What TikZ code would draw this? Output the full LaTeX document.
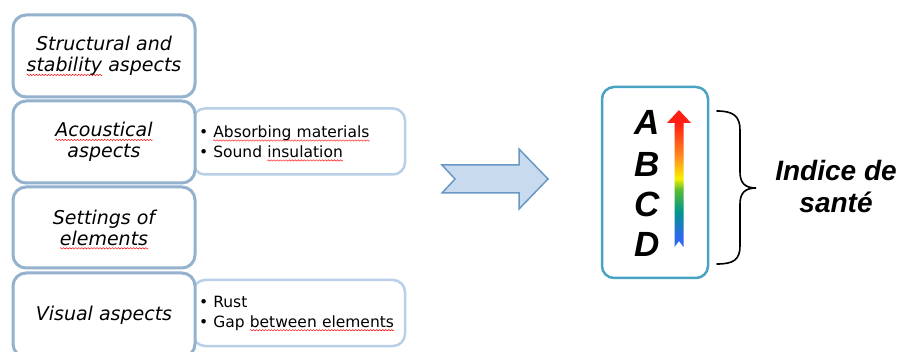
\documentclass[tikz,border=0pt]{standalone}
\usepackage{fontspec}
\setmainfont{DejaVu Sans}
\newfontfamily\arialf{Liberation Sans}

\definecolor{mainedge}{RGB}{148,177,206}
\definecolor{sideedge}{RGB}{184,207,231}
\definecolor{tealedge}{RGB}{75,163,195}
\definecolor{arrowfill}{RGB}{199,218,238}
\definecolor{arrowedge}{RGB}{105,152,196}
\definecolor{specblue}{RGB}{45,105,235}
\definecolor{specteal}{RGB}{0,150,140}
\definecolor{specgreen}{RGB}{90,190,50}
\definecolor{specyellow}{RGB}{250,240,0}
\definecolor{specorange}{RGB}{255,140,30}
\definecolor{specred}{RGB}{255,30,20}

% red wavy spelling underline, built from one repeated wave period
\newsavebox\wavebox
\newsavebox\wavetmp
\AtBeginDocument{\sbox\wavebox{\begin{pgfpicture}%
  \pgfpathrectangle{\pgfpoint{0pt}{-0.8pt}}{\pgfpoint{3pt}{1.6pt}}%
  \pgfusepath{use as bounding box}%
  \pgfsetbaseline{0pt}%
  \pgfsetstrokecolor{red}\pgfsetlinewidth{0.45pt}%
  \pgfpathmoveto{\pgfpoint{0pt}{0pt}}%
  \pgfpathsine{\pgfpoint{0.75pt}{0.7pt}}%
  \pgfpathcosine{\pgfpoint{0.75pt}{-0.7pt}}%
  \pgfpathsine{\pgfpoint{0.75pt}{-0.7pt}}%
  \pgfpathcosine{\pgfpoint{0.75pt}{0.7pt}}%
  \pgfusepath{stroke}%
  \end{pgfpicture}}}
\newcommand\spellwave[1]{\sbox\wavetmp{#1}%
  \rlap{\raisebox{-3.2pt}[0pt][0pt]{\hbox to \wd\wavetmp{\xleaders\copy\wavebox\hfil}}}%
  \usebox\wavetmp}

% spectrum from blue (bottom) to red (top)
\pgfdeclareverticalshading{spectrum}{100bp}{color(0bp)=(specblue); color(25bp)=(specblue);
  color(29bp)=(specblue); color(38bp)=(specteal); color(46bp)=(specgreen);
  color(50bp)=(specyellow); color(58bp)=(specorange); color(70bp)=(specred);
  color(100bp)=(specred)}

\begin{document}
\begin{tikzpicture}[x=1pt,y=-1pt,
  mainbox/.style={draw=mainedge, line width=3pt, fill=white, rounded corners=13pt,
    minimum width=182pt, align=center, inner sep=0pt,
    font=\fontsize{19}{21}\selectfont\itshape},
  sidebox/.style={draw=sideedge, line width=2.5pt, fill=white, rounded corners=12pt,
    minimum width=212pt, minimum height=66pt, text width=200pt, align=left,
    inner xsep=6pt, inner ysep=0pt, font=\fontsize{15.5}{20}\selectfont},
  letter/.style={anchor=base, inner sep=0pt,
    font={\arialf\bfseries\itshape\fontsize{35}{35}\selectfont}},
  label/.style={align=center, inner sep=0pt,
    font={\arialf\bfseries\itshape\fontsize{28}{32}\selectfont}}]
\clip (0,0) rectangle (901,352);

% detail boxes behind the category boxes
\node[sidebox] (acdet) at (299,141.5)
  {\textbullet\ \spellwave{Absorbing materials}\\\textbullet\ Sound \spellwave{insulation}};
\node[sidebox] (visdet) at (299,313)
  {\textbullet\ Rust\\\textbullet\ Gap \spellwave{between elements}};

% category boxes
\node[mainbox, minimum height=82pt] (struct) at (104,56)
  {Structural and\\\spellwave{stability} aspects};
\node[mainbox, minimum height=82pt] (acou) at (104,142)
  {\spellwave{Acoustical}\\aspects};
\node[mainbox, minimum height=81pt] (sett) at (104,227.5)
  {Settings of\\\spellwave{elements}};
\node[mainbox, minimum height=84pt] (vis) at (104,315)
  {Visual aspects};

% notched block arrow
\draw[line width=1.5pt, draw=arrowedge, fill=arrowfill, line join=miter]
  (442,165) -- (519,165) -- (519,149) -- (548,179) -- (519,209) -- (519,193)
  -- (442,193) -- (455,179) -- cycle;

% health index scale
\node[draw=tealedge, line width=2.5pt, rounded corners=12pt, fill=white,
  minimum width=106pt, minimum height=191pt, inner sep=0pt] (scale) at (655,182.5) {};
\node[letter] (la) at (647,135) {A};
\node[letter] (lb) at (647,177) {B};
\node[letter] (lc) at (647,217) {C};
\node[letter] (ld) at (647,257) {D};

% colour gradient arrow
\shade[shading=spectrum]
  (674.5,247) -- (674.5,123) -- (667,123) -- (679,110) -- (691,123) -- (683.5,123)
  -- (683.5,247) -- (679,241) -- cycle;

% curly brace
\draw[line width=1.6pt, line cap=round]
  (717,111) .. controls (733,111) and (740,116) .. (740,130) -- (740,172)
  .. controls (740,183) and (745,188) .. (756,188)
  .. controls (745,188) and (740,193) .. (740,204) -- (740,246)
  .. controls (740,260) and (733,264) .. (717,264);

\node[label] (idx) at (836,186) {Indice de\\santé};
\end{tikzpicture}
\end{document}
